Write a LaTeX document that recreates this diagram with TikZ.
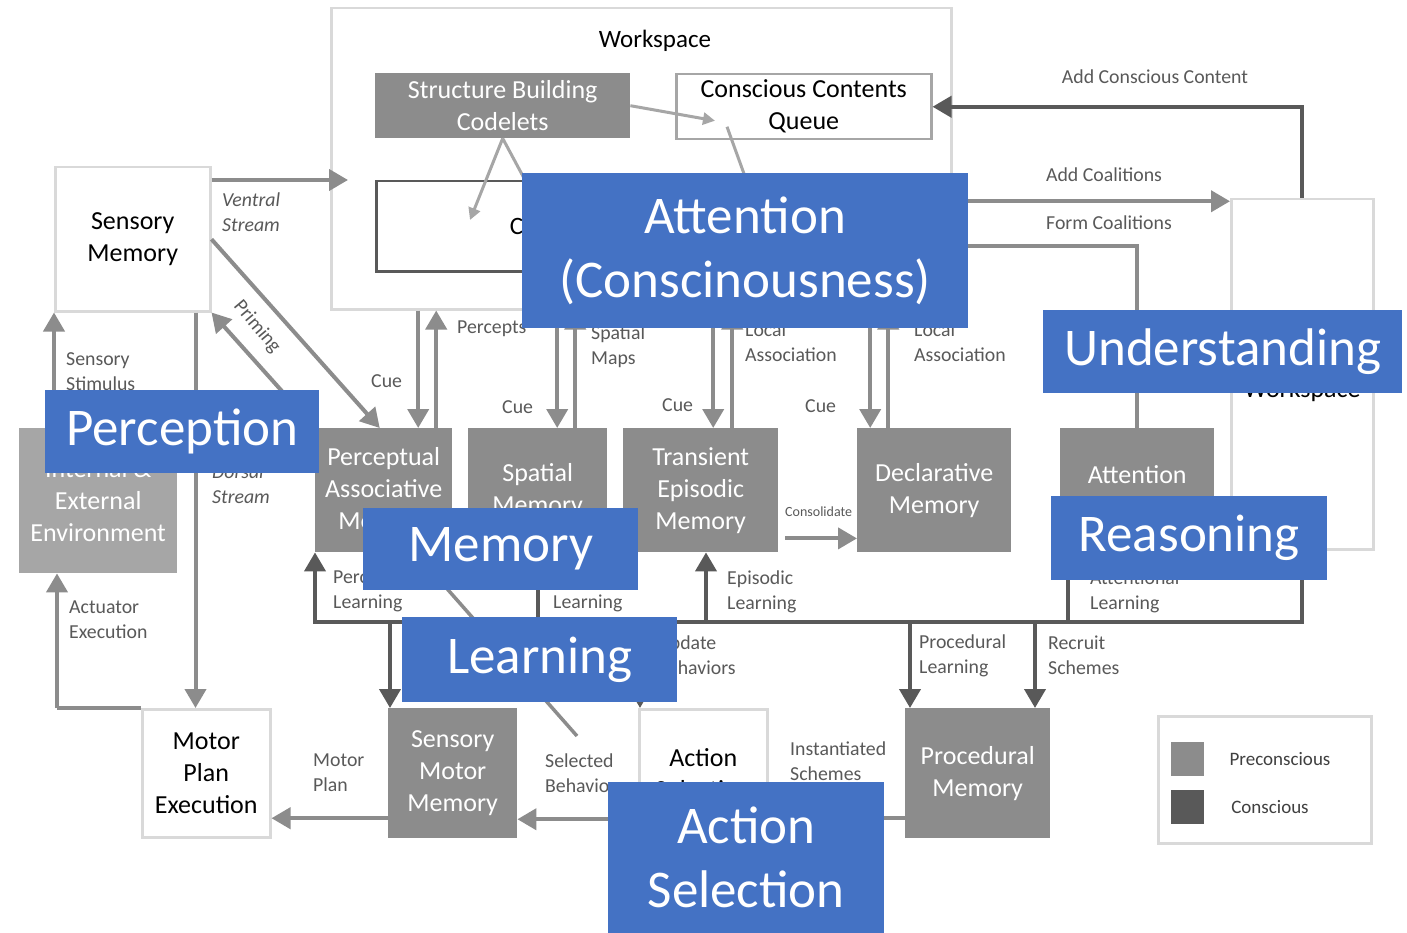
\documentclass[tikz,border=0pt]{standalone}
\usepackage{fontspec}
\setmainfont{Carlito}
\usetikzlibrary{arrows.meta, positioning}

\definecolor{pregray}{HTML}{8C8C8C}
\definecolor{congray}{HTML}{595959}
\definecolor{envgray}{HTML}{A6A6A6}
\definecolor{linegray}{HTML}{D9D9D9}
\definecolor{boxgray}{HTML}{A6A6A6}
\definecolor{labgray}{HTML}{595959}
\definecolor{ovblue}{HTML}{4472C4}

\begin{document}
\begin{tikzpicture}[x=1pt, y=-1pt,
  box/.style={anchor=north west, inner sep=0pt, align=center, font=\fontsize{26}{32}\selectfont},
  pre/.style={box, fill=pregray, text=white},
  plain/.style={box, draw=linegray, line width=2.5pt, fill=white, text=black},
  lab/.style={anchor=north west, inner sep=0pt, align=left, text=labgray, font=\fontsize{19.8}{25}\selectfont},
  arr/.style={draw=pregray, line width=4pt, -{Triangle[length=19pt,width=21pt]}},
  darr/.style={arr, draw=congray},
  thin/.style={draw=boxgray, line width=3pt},
  topic/.style={anchor=north west, fill=ovblue, text=white, inner sep=0pt, align=center,
                font=\fontsize{53}{64}\selectfont}
]
  \useasboundingbox (0,0) rectangle (1407,933);
  \fill[white] (0,0) rectangle (1407,933);

  % workspace
  \node[plain, minimum width=620, minimum height=301] (ws) at (330,7) {};
  \node[font=\fontsize{25}{32}\selectfont] (wstitle) at (655,41) {Workspace};
  \node[pre, minimum width=255, minimum height=65] (sbc) at (375,73) {Structure Building\\Codelets};
  \node[plain, draw=boxgray, minimum width=255, minimum height=65] (ccq) at (675,73) {Conscious Contents\\Queue};
  \node[plain, draw=congray, minimum width=530, minimum height=90, font=\fontsize{25}{32}\selectfont] (csm) at (375,180) {Current Situational Model};

  % modules
  \node[plain, minimum width=155, minimum height=144] (sm) at (54,166) {Sensory\\Memory};
  \node[box, fill=envgray, text=white, minimum width=158, minimum height=145] (env) at (19,428) {Internal \&\\External\\Environment};
  \node[pre, minimum width=137, minimum height=124] (pam) at (315,428) {Perceptual\\Associative\\Memory};
  \node[pre, minimum width=139, minimum height=124] (spm) at (468,428) {Spatial\\Memory};
  \node[pre, minimum width=155, minimum height=124] (tem) at (623,428) {Transient\\Episodic\\Memory};
  \node[pre, minimum width=154, minimum height=124] (dm) at (857,428) {Declarative\\Memory};
  \node[pre, minimum width=154, minimum height=124] (ac) at (1060,428) {Attention\\Codelets};
  \node[plain, minimum width=142, minimum height=350] (gw) at (1230,198) {Global\\Workspace};
  \node[plain, minimum width=128, minimum height=128] (mpe) at (141,708) {Motor\\Plan\\Execution};
  \node[pre, minimum width=129, minimum height=130] (smm) at (388,708) {Sensory\\Motor\\Memory};
  \node[plain, minimum width=128, minimum height=128] (as) at (638,708) {Action\\Selection};
  \node[pre, minimum width=145, minimum height=130] (pm) at (905,708) {Procedural\\Memory};

  % legend
  \node[plain, minimum width=213, minimum height=127] (legend) at (1157,715) {};
  \node[box, fill=pregray, minimum width=33, minimum height=34] (lgpre) at (1171,742) {};
  \node[box, fill=congray, minimum width=33, minimum height=34] (lgcon) at (1171,790) {};
  \node[text=black!75, font=\fontsize{19}{24}\selectfont] (lgpretxt) at (1280,759) {Preconscious};
  \node[text=black!75, font=\fontsize{19}{24}\selectfont] (lgcontxt) at (1270,807) {Conscious};

  % inside the workspace
  \draw[thin, -{Triangle[length=12pt,width=12pt]}] (sbc.east) -- ([shift={(40,14)}]ccq.west);
  \draw[thin] ([xshift=105]csm.north) -- ([shift={(52,20)}]ccq.west);
  \draw[thin, -{Triangle[length=12pt,width=12pt]}] (sbc.south) -- ([shift={(95,40)}]csm.north west);
  \draw[thin] (sbc.south) -- ([xshift=150]csm.north west);

  % perception
  \draw[arr, shorten >=-18pt] ([yshift=-14]sm.north east) -- ([yshift=-14]sm.north east -| ws.west);
  \draw[arr] ([xshift=35]env.north west) -- ([xshift=35]env.north west |- sm.south);
  \draw[arr] ([xshift=-16]sm.south east) -- ([xshift=-16]sm.south east |- mpe.north);
  \draw[arr] (pam.north west) -- (sm.south east);
  \draw[arr] (sm.east) -- ([xshift=-4]pam.north);
  \draw[arr] ([xshift=34.5]pam.north |- ws.south) -- ([xshift=34.5]pam.north);
  \draw[arr] ([xshift=52.5]pam.north) -- ([xshift=52.5]pam.north |- ws.south);

  % cue and local association
  \draw[arr] ([xshift=19.5]spm.north |- ws.south) -- ([xshift=19.5]spm.north);
  \draw[arr] ([xshift=37.5]spm.north) -- ([xshift=37.5]spm.north |- ws.south);
  \draw[arr] ([xshift=12.5]tem.north |- ws.south) -- ([xshift=12.5]tem.north);
  \draw[arr] ([xshift=31.5]tem.north) -- ([xshift=31.5]tem.north |- ws.south);
  \draw[arr] ([xshift=-64]dm.north |- ws.south) -- ([xshift=-64]dm.north);
  \draw[arr] ([xshift=-46]dm.north) -- ([xshift=-46]dm.north |- ws.south);
  \draw[arr] ([shift={(7,-14)}]tem.south east) -- ([yshift=14]dm.south west);

  % coalitions
  \draw[draw=pregray, line width=4pt] (ac.north) |- ([yshift=-87.5]ws.east);
  \draw[arr] ([yshift=-42.5]ws.east) -- ([yshift=-42.5]ws.east -| gw.west);
  \draw[darr] (gw.north) |- (ccq.east);

  % action
  \draw[arr] ([xshift=38]env.south west |- mpe.north west) -- ([xshift=38]env.south west);
  \draw[arr] ([yshift=-45]smm.west) -- ([yshift=-45]smm.west -| mpe.east);
  \draw[arr] ([yshift=-46]as.west) -- ([yshift=-46]as.west -| smm.east);
  \draw[arr] ([yshift=-45]pm.west) -- ([yshift=-45]pm.west -| as.east);
  \draw[draw=pregray, line width=3.5pt] ([xshift=100]pam.south west) -- ([shift={(-61,28)}]as.north west);
  \draw[draw=pregray, line width=4pt] ([xshift=38]env.south west |- mpe.north west) -- (mpe.north west);

  % broadcast and learning
  \coordinate (bus) at (0,622);
  \draw[darr] (gw.south) |- (bus -| pam.south west) -- (pam.south west);
  \draw[darr] ([xshift=2]bus -| smm.north west) -- ([xshift=2]smm.north west);
  \draw[darr] ([xshift=70]bus -| spm.south west) -- ([xshift=70]spm.south west);
  \draw[darr] ([xshift=83]bus -| tem.south west) -- ([xshift=83]tem.south west);
  \draw[darr] ([xshift=2]bus -| as.north west) -- ([xshift=2]as.north west);
  \draw[darr] ([xshift=5]bus -| pm.north west) -- ([xshift=5]pm.north west);
  \draw[darr] ([xshift=130]bus -| pm.north west) -- ([xshift=130]pm.north west);
  \draw[darr] ([xshift=8]bus -| ac.south west) -- ([xshift=8]ac.south west);

  % labels
  \node[lab, font=\fontsize{19.8}{25}\selectfont\itshape] (ventral) at (222,193) {Ventral\\Stream};
  \node[lab] (stim) at (66,352) {Sensory\\Stimulus};
  \node[lab, anchor=center, rotate=-50] (priming) at (257,327) {Priming};
  \node[lab] (cuea) at (371,374) {Cue};
  \node[lab] (percepts) at (457,321) {Percepts};
  \node[lab] (maps) at (591,326) {Spatial\\Maps};
  \node[lab] (cueb) at (502,400) {Cue};
  \node[lab] (loca) at (745,323) {Local\\Association};
  \node[lab] (cuec) at (662,398) {Cue};
  \node[lab] (locb) at (914,323) {Local\\Association};
  \node[lab] (cued) at (805,399) {Cue};
  \node[lab, font=\fontsize{19.8}{25}\selectfont\itshape] (dorsal) at (212,465) {Dorsal\\Stream};
  \node[lab, font=\fontsize{14}{16}\selectfont] (consol) at (785,507) {Consolidate};
  \node[lab] (perclearn) at (333,570) {Perceptual\\Learning};
  \node[lab] (spatlearn) at (553,570) {Spatial\\Learning};
  \node[lab] (epilearn) at (727,571) {Episodic\\Learning};
  \node[lab] (attlearn) at (1090,571) {Attentional\\Learning};
  \node[lab] (update) at (657,636) {Update\\Behaviors};
  \node[lab] (proclearn) at (919,635) {Procedural\\Learning};
  \node[lab] (recruit) at (1048,636) {Recruit\\Schemes};
  \node[lab] (actuator) at (69,601) {Actuator\\Execution};
  \node[lab] (motorplan) at (313,754) {Motor\\Plan};
  \node[lab] (selected) at (545,754) {Selected\\Behaviors};
  \node[lab] (instant) at (790,742) {Instantiated\\Schemes};
  \node[lab, anchor=center] (addcc) at (1155,77) {Add Conscious Content};
  \node[lab, anchor=center] (addco) at (1104,175) {Add Coalitions};
  \node[lab, anchor=center] (formco) at (1109,223) {Form Coalitions};

  % topics on top
  \node[topic, minimum width=446, minimum height=155] (tattn) at (522,173) {Attention\\(Conscinousness)};
  \node[topic, minimum width=359, minimum height=83] (tund) at (1043,310) {Understanding};
  \node[topic, minimum width=274, minimum height=83] (tperc) at (45,390) {Perception};
  \node[topic, minimum width=275, minimum height=82] (tmem) at (363,508) {Memory};
  \node[topic, minimum width=275, minimum height=85] (tlearn) at (402,617) {Learning};
  \node[topic, minimum width=276, minimum height=84] (treas) at (1051,496) {Reasoning};
  \node[topic, minimum width=276, minimum height=151] (tact) at (608,782) {Action\\Selection};
\end{tikzpicture}
\end{document}
